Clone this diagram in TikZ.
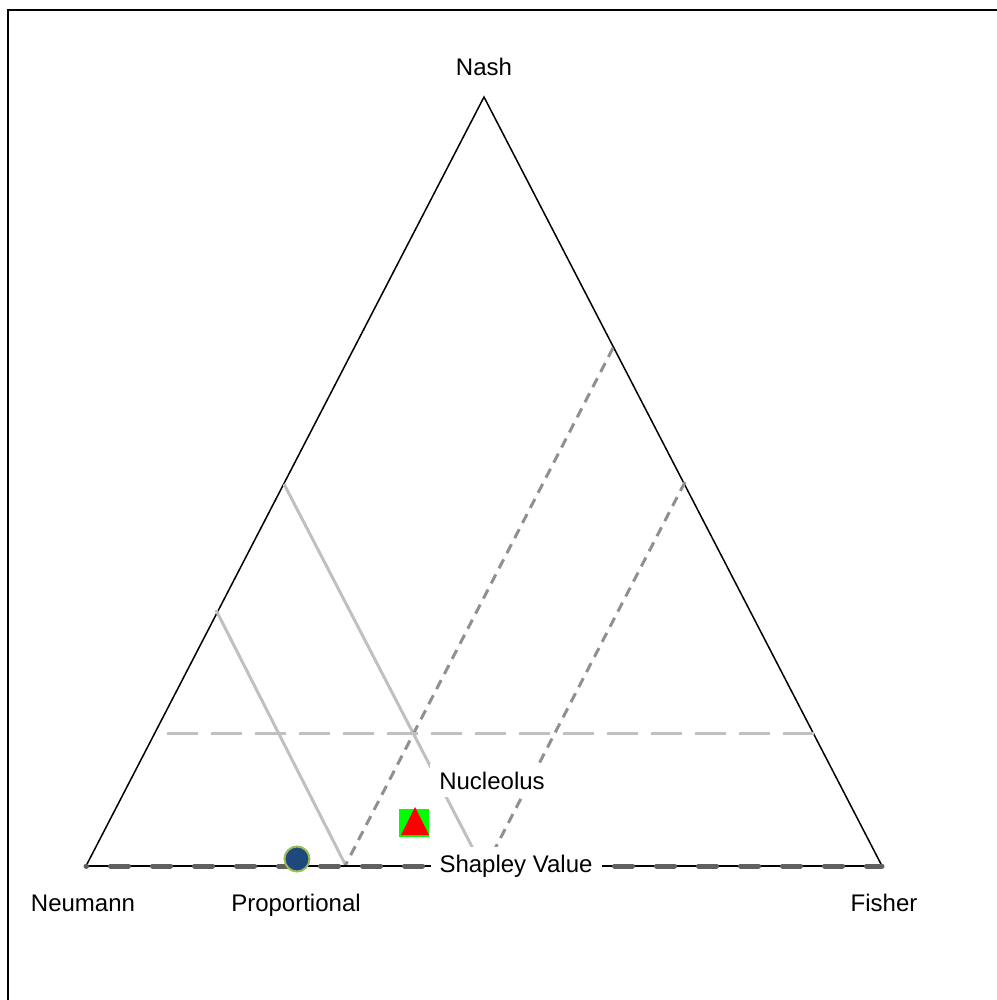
\documentclass[tikz,border=0pt]{standalone}
\usepackage{fontspec}
\setmainfont{Liberation Sans}
\usetikzlibrary{positioning,shapes.geometric}
\definecolor{shapleygray}{RGB}{96,96,96}
\definecolor{coregray}{RGB}{192,192,192}
\definecolor{bandgray}{RGB}{144,144,144}
\definecolor{propblue}{RGB}{31,73,125}
\definecolor{propgreen}{RGB}{155,187,89}

\begin{document}
\begin{tikzpicture}[x=1pt, y=-1pt,
  lbl/.style={font=\fontsize{24}{28}\selectfont, inner sep=0pt, anchor=base},
  lblbox/.style={lbl, fill=white, inner xsep=9pt, inner ysep=8pt},
  coreline/.style={coregray, line width=3pt},
  bandline/.style={bandgray, line width=3pt, dash pattern=on 10pt off 7pt},
  midline/.style={coregray, line width=3pt, dash pattern=on 31pt off 13pt},
  shapleyline/.style={shapleygray, line width=5pt, line cap=round, dash pattern=on 18pt off 24pt, dash phase=17.5pt}]

\useasboundingbox (0,0) rectangle (996,1000);

% Frame
\draw[line width=2pt] (8,10) rectangle (1010,1010);

% Triangle corners
\coordinate (nash) at (484,97);
\coordinate (neumann) at (86,866);
\coordinate (fisher) at (882,866);
\draw[line width=1.5pt, line join=miter] (neumann) -- (nash) -- (fisher);

% Solid lines (parallel to right side)
\coordinate (c1a) at (216,610);
\coordinate (c1b) at (346,866);
\coordinate (c2a) at (284,484);
\coordinate (c2b) at (482,866);
\draw[coreline] (c1a) -- (c1b);
\draw[coreline] (c2a) -- (c2b);

% Dotted lines (parallel to left side)
\coordinate (b1a) at (613,348);
\coordinate (b1b) at (345,866);
\coordinate (b2a) at (685,482);
\coordinate (b2b) at (486,866);
\draw[bandline] (b1a) -- (b1b);
\draw[bandline] (b2a) -- (b2b);

% Horizontal dashed line
\coordinate (m1) at (167,733);
\coordinate (m2) at (814,733);
\draw[midline] (m1) -- (m2);

% Base
\draw[line width=2.5pt] (neumann) -- (fisher);
\draw[shapleyline] (neumann) -- (fisher);

% Labels
\node[lbl] (nashlbl) at (484,76) {Nash};
\node[lbl] (neumannlbl) at (83,911) {Neumann};
\node[lbl] (proplbl) at (296,911) {Proportional};
\node[lbl] (fisherlbl) at (884,911) {Fisher};
\node[lblbox] (nuclbl) at (492,789) {Nucleolus};
\node[lblbox] (shaplbl) at (516,872) {Shapley Value};

% Markers
\node[circle, draw=propgreen, fill=propblue, line width=2pt, minimum size=25pt, inner sep=0pt] (prop) at (297,859) {};
\node[fill=green, minimum width=30pt, minimum height=28pt, inner sep=0pt] (nucsq) at (414,823) {};
\fill[red] (nucsq.center) ++(1,-16) -- ++(14,28) -- ++(-28,0) -- cycle;

\end{tikzpicture}
\end{document}
